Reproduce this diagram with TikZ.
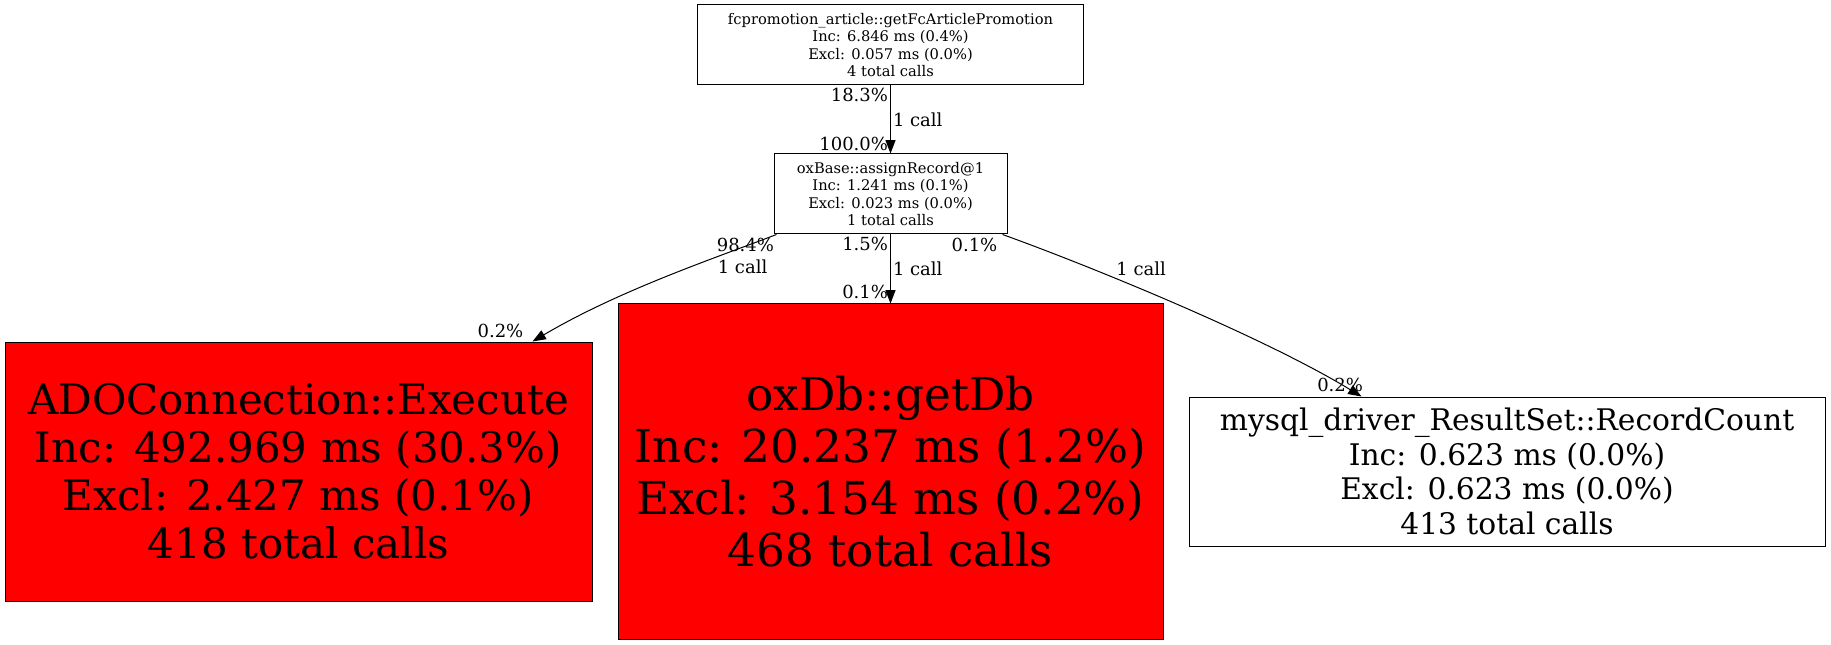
\documentclass[tikz,border=0pt]{standalone}
\usepackage{fontspec}
\setmainfont{DejaVu Serif}
\usetikzlibrary{arrows.meta,calc}

\begin{document}
\begin{tikzpicture}[x=0.75pt,y=-0.75pt]
    \tikzset{func/.style = {shape=rectangle, draw, line width=0.75pt, align=center, inner sep=0pt}}
    \tikzset{hot/.style = {func, fill=red}}
    \tikzset{call/.style = {draw, line width=0.75pt, -{Triangle[length=10pt,width=7.5pt]}}}
    \tikzset{lbl/.style = {inner sep=1.5pt, font=\fontsize{13.5}{16}\selectfont}}
    \useasboundingbox (0,0) rectangle (1831,645);

    % vertices
    \node[func, minimum width=290pt, minimum height=60pt, font=\fontsize{11}{13.2}\selectfont] (promo) at (890.5,45)
        {fcpromotion\_article::getFcArticlePromotion\\Inc: 6.846 ms (0.4\%)\\Excl: 0.057 ms (0.0\%)\\4 total calls};
    \node[func, minimum width=174.75pt, minimum height=60pt, font=\fontsize{11}{13.2}\selectfont] (assign) at (890.5,194)
        {oxBase::assignRecord@1\\Inc: 1.241 ms (0.1\%)\\Excl: 0.023 ms (0.0\%)\\1 total calls};
    \node[hot, minimum width=440.25pt, minimum height=194.25pt, font=\fontsize{31.5}{36}\selectfont] (ado) at (298.5,471.5)
        {ADOConnection::Execute\\Inc: 492.969 ms (30.3\%)\\Excl: 2.427 ms (0.1\%)\\418 total calls};
    \node[hot, minimum width=408.75pt, minimum height=251.25pt, font=\fontsize{34}{39}\selectfont] (getdb) at (890.5,471.5)
        {oxDb::getDb\\Inc: 20.237 ms (1.2\%)\\Excl: 3.154 ms (0.2\%)\\468 total calls};
    \node[func, minimum width=477pt, minimum height=111.75pt, font=\fontsize{22.3}{26}\selectfont] (mysql) at (1507,471.5)
        {mysql\_driver\_ResultSet::RecordCount\\Inc: 0.623 ms (0.0\%)\\Excl: 0.623 ms (0.0\%)\\413 total calls};

    % edges
    \draw[call] (promo) -- node[lbl, pos=0, anchor=north east] (promo-t) {18.3\%}
        node[lbl, midway, right] (promo-c) {1 call}
        node[lbl, pos=1, anchor=south east] (promo-h) {100.0\%} (assign);
    \draw[call] ($(assign.south west)+(3,0)$) .. controls +(-57,22) and +(88,-52) .. ($(ado.north east)+(-60,0)$)
        node[lbl, pos=0, anchor=north east, yshift=-1pt] (ado-t) {98.4\%}
        node[lbl, pos=0.3, anchor=north west] (ado-c) {1 call}
        node[lbl, pos=1, anchor=south east, xshift=-5pt, yshift=1pt] (ado-h) {0.2\%};
    \draw[call] (assign) -- node[lbl, pos=0, anchor=north east] (getdb-t) {1.5\%}
        node[lbl, midway, right] (getdb-c) {1 call}
        node[lbl, pos=1, anchor=south east, yshift=2pt] (getdb-h) {0.1\%} (getdb);
    \draw[call] ($(assign.south east)+(-5,0)$) .. controls +(78,28) and +(-102,-62) .. ($(mysql.north west)+(173,0)$)
        node[lbl, pos=0, anchor=north east, xshift=-2pt, yshift=-1pt] (mysql-t) {0.1\%}
        node[lbl, pos=0.35, anchor=south west] (mysql-c) {1 call}
        node[lbl, pos=1, anchor=south east, xshift=3pt, yshift=2pt] (mysql-h) {0.2\%};
\end{tikzpicture}
\end{document}
